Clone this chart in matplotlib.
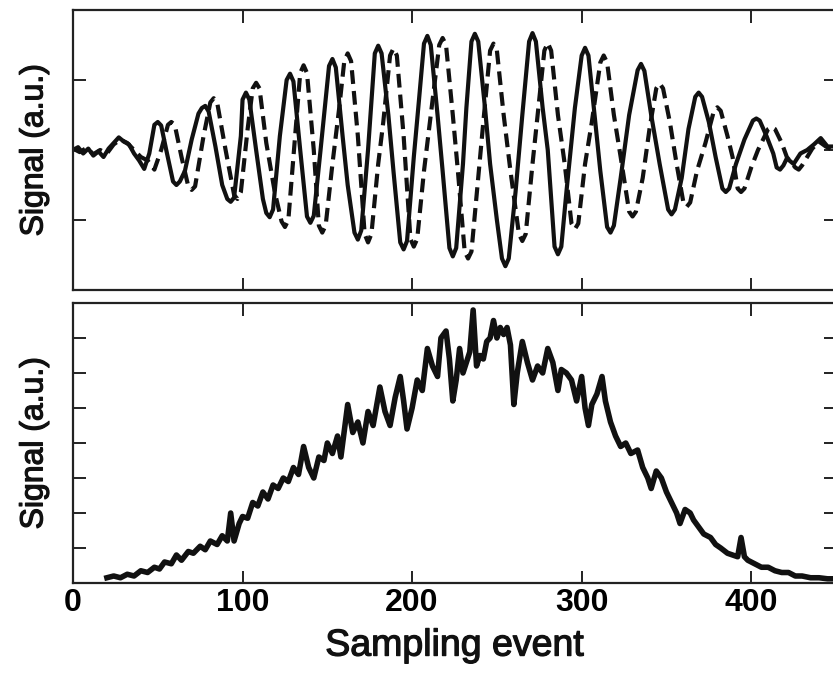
import matplotlib
matplotlib.use("Agg")
import matplotlib.pyplot as plt
import matplotlib.patheffects as pe

plt.rcParams['font.family'] = ['Liberation Sans', 'DejaVu Sans']

# ---------------- data ----------------
# Top panel, solid trace: (sampling event, signal)
solid_pts = [
    (0, 0.0), (3, 0.04), (6, -0.05), (9, 0.02), (12, -0.08), (15, -0.02), (18, -0.1),
    (21, 0.02), (24, 0.1), (27, 0.18), (30, 0.12), (33, 0.08), (36, -0.05), (39, -0.15),
    (42, -0.27), (45, -0.05), (48, 0.36), (50, 0.4), (52, 0.35), (55, 0.0), (59, -0.45),
    (61, -0.5), (63, -0.45), (66, -0.3), (70, 0.15), (74, 0.52), (76, 0.6), (78, 0.63),
    (80, 0.55), (84, 0.05), (88, -0.5), (91, -0.7), (93, -0.74), (95, -0.68), (99, 0.2),
    (100, 0.72), (102, 0.82), (104, 0.72), (108, 0.0), (112, -0.7), (114, -0.9),
    (116, -0.96), (118, -0.85), (122, 0.2), (126, 1.0), (128, 1.09), (130, 0.98),
    (134, 0.0), (138, -0.95), (140, -1.04), (142, -0.94), (146, 0.0), (151, 1.2),
    (153, 1.30), (155, 1.18), (159, 0.2), (162, -0.5), (166, -1.18), (168, -1.28),
    (170, -1.15), (174, 0.0), (178, 1.38), (180, 1.49), (182, 1.38), (186, 0.5),
    (189, -0.3), (193, -1.32), (195, -1.42), (197, -1.3), (201, -0.1), (204, 0.7),
    (207, 1.52), (209, 1.63), (211, 1.5), (215, 0.5), (218, -0.3), (222, -1.4),
    (224, -1.52), (226, -1.4), (230, -0.2), (232, 0.6), (235, 1.55), (237, 1.66),
    (239, 1.55), (243, 0.6), (246, -0.2), (250, -1.0), (253, -1.55), (255, -1.66),
    (257, -1.55), (261, -0.6), (265, 0.5), (269, 1.55), (271, 1.67), (273, 1.55),
    (277, 0.6), (280, 0.0), (284, -1.38), (286, -1.49), (288, -1.38), (291, -0.6),
    (296, 0.6), (300, 1.35), (302, 1.46), (304, 1.35), (308, 0.4), (311, -0.3),
    (315, -1.1), (317, -1.18), (319, -1.08), (323, -0.4), (328, 0.5), (333, 1.14),
    (335, 1.23), (337, 1.13), (341, 0.5), (346, -0.2), (351, -0.85), (353, -0.92),
    (355, -0.85), (359, -0.4), (363, 0.3), (367, 0.76), (369, 0.82), (371, 0.76),
    (375, 0.4), (379, -0.1), (383, -0.55), (385, -0.60), (387, -0.55), (391, -0.2),
    (396, 0.15), (401, 0.42), (403, 0.45), (405, 0.42), (409, 0.2), (413, -0.05),
    (415, -0.25), (417, -0.28), (419, -0.22), (421, -0.12), (425, -0.2), (429, -0.05),
    (433, 0.0), (437, 0.08), (441, 0.17), (445, 0.05), (450, 0.05),
]

# Top panel, dashed trace
dashed_pts = [
    (0, 0.02), (4, -0.03), (8, 0.03), (12, -0.06), (16, 0.0), (20, -0.05), (24, 0.08),
    (28, 0.15), (32, 0.1), (36, 0.0), (40, -0.1), (44, -0.15), (48, -0.28), (52, 0.0),
    (56, 0.36), (58, 0.40), (60, 0.36), (64, -0.1), (68, -0.52), (70, -0.57), (72, -0.52),
    (77, 0.2), (81, 0.68), (83, 0.74), (85, 0.68), (90, 0.0), (95, -0.64), (97, -0.7),
    (99, -0.6), (103, 0.3), (106, 0.88), (108, 0.96), (110, 0.88), (114, 0.1),
    (119, -0.6), (123, -1.02), (125, -1.1), (127, -1.0), (131, 0.2), (134, 1.1),
    (136, 1.21), (138, 1.1), (142, 0.0), (145, -1.08), (147, -1.18), (149, -1.08),
    (153, -0.2), (157, 0.6), (160, 1.27), (162, 1.38), (164, 1.27), (168, 0.2),
    (172, -1.2), (174, -1.32), (176, -1.2), (180, -0.2), (183, 0.4), (187, 1.35),
    (189, 1.45), (191, 1.35), (195, 0.2), (199, -1.27), (201, -1.38), (203, -1.27),
    (207, -0.3), (211, 0.5), (216, 1.5), (218, 1.60), (220, 1.5), (224, 0.5),
    (227, -0.3), (231, -1.45), (233, -1.55), (235, -1.45), (239, -0.4), (242, 0.4),
    (246, 1.42), (248, 1.52), (250, 1.42), (254, 0.5), (258, -0.3), (263, -1.2),
    (265, -1.3), (267, -1.2), (271, -0.2), (274, 0.5), (278, 1.42), (280, 1.53),
    (282, 1.42), (286, 0.5), (290, -0.2), (294, -1.05), (296, -1.13), (298, -1.05),
    (302, -0.2), (306, 0.4), (311, 1.25), (313, 1.35), (315, 1.25), (319, 0.5),
    (323, -0.1), (328, -0.88), (330, -0.95), (332, -0.88), (336, -0.4), (340, 0.3),
    (344, 0.88), (346, 0.95), (348, 0.88), (352, 0.4), (356, -0.2), (360, -0.75),
    (362, -0.81), (364, -0.75), (368, -0.3), (373, 0.1), (378, 0.56), (380, 0.61),
    (382, 0.56), (386, 0.2), (389, -0.1), (392, -0.55), (394, -0.60), (396, -0.55),
    (400, -0.25), (404, 0.0), (410, 0.3), (412, 0.33), (414, 0.3), (418, 0.1),
    (421, -0.1), (426, -0.25), (428, -0.28), (430, -0.22), (433, -0.1), (436, 0.02),
    (440, 0.12), (444, 0.05), (448, 0.0), (450, 0.02),
]

# Bottom panel, envelope trace
hump_x = [20, 24, 28, 32, 36, 40, 44, 48, 51, 54, 58, 61, 64, 68, 71, 75, 78, 81, 85,
          88, 91, 93, 95, 98, 100, 103, 106, 109, 112, 115, 118, 121, 124, 127, 130,
          133, 136, 139, 142, 145, 148, 150, 153, 156, 158, 162, 165, 168, 171, 174,
          177, 181, 184, 187, 190, 193, 195, 197, 200, 203, 206, 209, 212, 215, 217,
          220, 222, 224, 226, 228, 230, 232, 234, 236, 238, 240, 242, 244, 246, 248,
          250, 252, 254, 256, 258, 260, 262, 265, 268, 271, 274, 277, 280, 283, 286,
          288, 291, 294, 297, 300, 302, 304, 306, 309, 312, 314, 317, 320, 323, 326,
          329, 333, 336, 339, 341, 344, 347, 350, 353, 356, 358, 361, 364, 366, 369,
          372, 376, 379, 382, 386, 389, 392, 394, 396, 398, 402, 406, 410, 414, 418,
          422, 426, 430, 435, 440, 445, 450]
hump_y = [0.15, 0.2, 0.15, 0.25, 0.2, 0.35, 0.3, 0.45, 0.4, 0.6, 0.55, 0.8, 0.65, 0.9,
          0.85, 1.05, 0.95, 1.2, 1.1,
          1.35, 1.2, 2.0, 1.2, 1.7, 1.9, 1.85, 2.3, 2.2, 2.6, 2.4, 2.8, 2.7, 3.0, 2.9,
          3.3,
          3.1, 3.9, 3.3, 3.0, 3.6, 3.5, 4.0, 3.7, 4.2, 3.6, 5.1, 4.3, 4.6, 4.0, 4.9,
          4.5, 5.6, 4.9, 4.5, 5.3, 5.9, 5.2, 4.4, 5.0, 5.8, 5.5, 6.7, 6.2, 5.9, 7.0,
          7.2, 6.4, 5.2, 5.8, 6.7, 6.0, 6.3, 6.6, 7.8, 6.2, 6.5, 6.4, 6.9, 7.0, 7.5,
          7.0, 7.3, 7.1, 7.3, 6.8, 5.1, 6.0, 6.9, 6.3, 5.8, 6.2, 6.0, 6.7, 6.3, 5.5,
          6.1, 6.0, 5.8, 5.2, 5.9, 5.0, 4.5, 5.1, 5.4, 5.9, 5.2, 4.6, 4.2, 3.9, 4.0,
          3.7, 3.8, 3.3, 3.0, 2.7, 3.2, 3.0, 2.6, 2.3, 2.0, 1.7, 2.1, 2.0, 1.8, 1.6,
          1.4, 1.3, 1.1, 1.0, 0.85, 0.8, 0.75, 1.3, 0.75, 0.65, 0.55, 0.45, 0.45, 0.35,
          0.3,
          0.3, 0.2, 0.2, 0.15, 0.15, 0.12, 0.12]

solid_x = [p[0] for p in solid_pts]
solid_y = [p[1] for p in solid_pts]
dashed_x = [p[0] for p in dashed_pts]
dashed_y = [p[1] for p in dashed_pts]

x_ticks = [0, 100, 200, 300, 400]
x_ticklabels = ["0", "100", "200", "300", "400"]
top_yticks = [-1, 0, 1]
bottom_yticks = [1, 2, 3, 4, 5, 6, 7]

# ---------------- figure ----------------
W, H = 833, 685
fig = plt.figure(figsize=(W / 100, H / 100), dpi=100)

def px_axes(left, top, right, bottom):
    return fig.add_axes([left / W, 1 - bottom / H, (right - left) / W, (bottom - top) / H])

ax1 = px_axes(73, 10, 836, 290)
ax2 = px_axes(73, 303, 836, 583)

ink = '#111111'

ax1.plot(dashed_x, dashed_y, color=ink, lw=3.0, linestyle=(0, (3.3, 1.7)))
ax1.plot(solid_x, solid_y, color=ink, lw=3.0)
ax2.plot(hump_x, hump_y, color=ink, lw=4.0)

ax1.set_xlim(0, 450)
ax1.set_ylim(-2, 2)
ax2.set_xlim(0, 450)
ax2.set_ylim(0, 8)

for ax in (ax1, ax2):
    for s in ax.spines.values():
        s.set_linewidth(1.6)
        s.set_color('#222222')
    ax.tick_params(direction='in', length=9, width=1.4, color='#222222',
                   top=True, right=True, labelsize=23)
    ax.set_xticks(x_ticks)

ax1.set_yticks(top_yticks)
ax1.tick_params(labelbottom=False, labelleft=False)
ax2.set_yticks(bottom_yticks)
ax2.tick_params(labelleft=False)
ax2.set_xticklabels(x_ticklabels, fontweight='bold')

heavy = [pe.withStroke(linewidth=0.9, foreground=ink)]
l1 = ax1.set_ylabel("Signal (a.u.)", fontsize=23, labelpad=17, color=ink)
l2 = ax2.set_ylabel("Signal (a.u.)", fontsize=23, labelpad=17, color=ink)
l3 = ax2.set_xlabel("Sampling event", fontsize=27, labelpad=7, color=ink)
for t in (l1, l2, l3):
    t.set_path_effects(heavy)

fig.savefig("out.png", dpi=100)
